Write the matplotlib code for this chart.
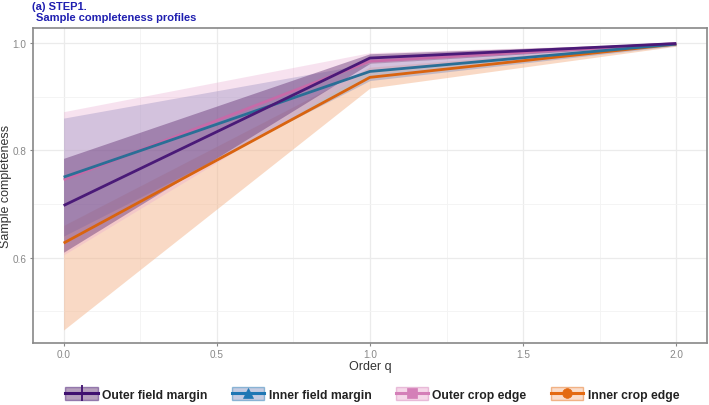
import matplotlib
matplotlib.use("Agg")
import matplotlib.pyplot as plt
from matplotlib.patches import Patch
from matplotlib.lines import Line2D
from matplotlib.ticker import MultipleLocator

plt.rcParams['font.family'] = ['Liberation Sans', 'DejaVu Sans']

q = [0.0, 1.0, 2.0]
series = ["Outer field margin", "Inner field margin", "Outer crop edge", "Inner crop edge"]
est = {
    "Outer field margin": [0.697, 0.972, 0.999],
    "Inner field margin": [0.750, 0.947, 0.998],
    "Outer crop edge":    [0.745, 0.966, 0.999],
    "Inner crop edge":    [0.627, 0.936, 0.998],
}
lo = {
    "Outer field margin": [0.610, 0.962, 0.997],
    "Inner field margin": [0.640, 0.930, 0.995],
    "Outer crop edge":    [0.605, 0.950, 0.996],
    "Inner crop edge":    [0.465, 0.916, 0.994],
}
hi = {
    "Outer field margin": [0.785, 0.980, 1.000],
    "Inner field margin": [0.860, 0.962, 1.000],
    "Outer crop edge":    [0.872, 0.982, 1.000],
    "Inner crop edge":    [0.660, 0.955, 1.000],
}
line_col = {
    "Outer field margin": "#4a1a78",
    "Inner field margin": "#2a6f96",
    "Outer crop edge": "#c76aa8",
    "Inner crop edge": "#d9640f",
}
fill_col = {
    "Outer field margin": "#5c2a6e",
    "Inner field margin": "#7f8fc0",
    "Outer crop edge": "#e9a8cf",
    "Inner crop edge": "#f4b58c",
}
fill_alpha = {
    "Outer field margin": 0.42,
    "Inner field margin": 0.42,
    "Outer crop edge": 0.33,
    "Inner crop edge": 0.5,
}
markers = {
    "Outer field margin": "|",
    "Inner field margin": "^",
    "Outer crop edge": "s",
    "Inner crop edge": "o",
}
leg_col = {
    "Outer field margin": "#3f1070",
    "Inner field margin": "#1f77b4",
    "Outer crop edge": "#d47fb8",
    "Inner crop edge": "#e46a12",
}

fig = plt.figure(figsize=(7.09, 4.06), dpi=100)
ax = fig.add_axes([0.0465, 0.153, 0.9505, 0.7756])

draw_order = ["Inner crop edge", "Inner field margin", "Outer crop edge", "Outer field margin"]
for s in draw_order:
    ax.fill_between(q, lo[s], hi[s], color=fill_col[s], alpha=fill_alpha[s], lw=0, zorder=2)
for s in ["Inner crop edge", "Outer crop edge", "Inner field margin", "Outer field margin"]:
    ax.plot(q, est[s], color=line_col[s], lw=2.0, zorder=3, solid_capstyle='butt')

ax.set_xlim(-0.1, 2.1)
ax.set_ylim(0.441, 1.028)
ax.xaxis.set_minor_locator(MultipleLocator(0.25))
ax.yaxis.set_minor_locator(MultipleLocator(0.1))
ax.set_xticks([0.0, 0.5, 1.0, 1.5, 2.0])
ax.set_xticklabels(["0.0", "0.5", "1.0", "1.5", "2.0"])
ax.set_yticks([0.6, 0.8, 1.0])
ax.set_yticklabels(["0.6", "0.8", "1.0"])
ax.grid(which='major', color='#ebebeb', lw=0.9, zorder=0)
ax.grid(which='minor', color='#f3f3f3', lw=0.6, zorder=0)
ax.set_axisbelow(True)
ax.tick_params(which='major', length=2.5, color='#888888', labelcolor='#888888', labelsize=7.2, pad=2)
ax.tick_params(which='minor', length=0)
for sp in ax.spines.values():
    sp.set_color('#888888')
    sp.set_linewidth(1.2)
ax.set_xlabel("Order q", fontsize=9, color='#333333', va='center')
ax.xaxis.set_label_coords(0.5, -0.073)
ax.set_ylabel("Sample completeness", fontsize=9, color='#333333', va='center')
ax.yaxis.set_label_coords(-0.0395, 0.5)

fig.text(0.045, 0.983, "(a) STEP1.", fontsize=8, fontweight='bold', color='#1f1fb0', va='center', ha='left')
fig.text(0.051, 0.955, "Sample completeness profiles", fontsize=8, fontweight='bold', color='#1f1fb0', va='center', ha='left')

handles = []
for s in series:
    p = Patch(facecolor=fill_col[s], alpha=0.45, edgecolor=leg_col[s], lw=1.0)
    ln = Line2D([], [], color=leg_col[s], lw=2.2, marker=markers[s],
                markersize=7 if s != "Outer field margin" else 11,
                markeredgewidth=1.3 if s == "Outer field margin" else 0.5)
    handles.append((p, ln))
leg = fig.legend(handles, series, loc='center', bbox_to_anchor=(0.525, 0.027), ncol=4, frameon=False,
                 handlelength=2.7, handleheight=1.3, columnspacing=2.0, handletextpad=0.35,
                 borderpad=0.1, prop={'weight': 'bold', 'size': 8.7})
for t in leg.get_texts():
    t.set_color('#222222')

fig.savefig("out.png", dpi=100)
